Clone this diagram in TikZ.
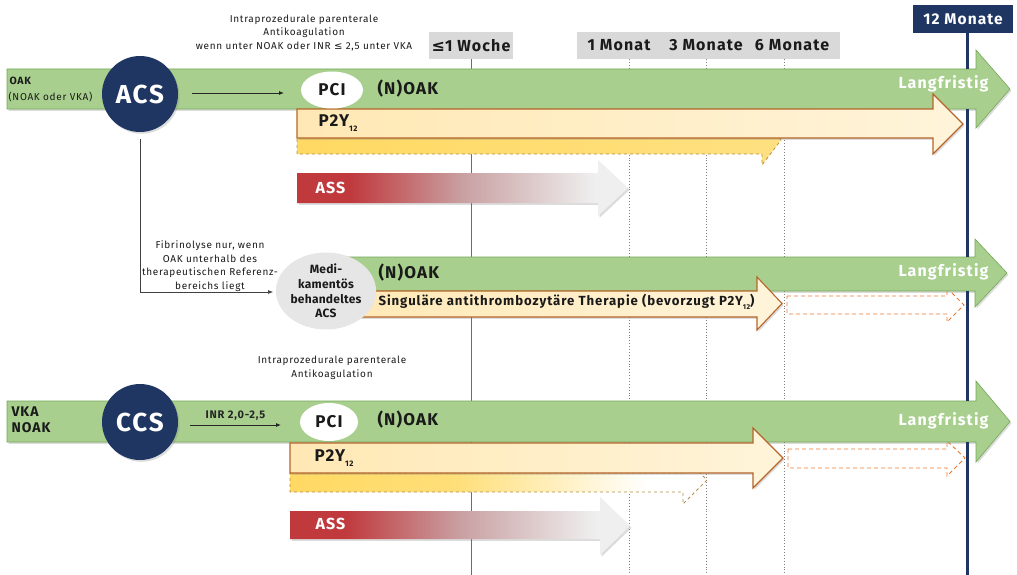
\documentclass[tikz,border=0pt]{standalone}
\usepackage{fontspec}
\setmainfont{Fira Sans}[LetterSpace=7]
\newfontfamily\symfont{DejaVu Sans}
\usetikzlibrary{shapes.geometric,shadows,arrows.meta}
\definecolor{gfill}{HTML}{A8CF8E}
\definecolor{gline}{HTML}{74A857}
\definecolor{navy}{HTML}{1F3562}
\definecolor{boxgrey}{HTML}{D9D9D9}
\definecolor{cream1}{HTML}{FFE8B4}
\definecolor{cream2}{HTML}{FFF4DA}
\definecolor{brownline}{HTML}{B5652B}
\definecolor{yel}{HTML}{FFD962}
\definecolor{yelline}{HTML}{B0904A}
\definecolor{assred}{HTML}{C0393D}
\definecolor{assmid}{HTML}{C9A0A2}
\definecolor{asslight}{HTML}{EFEFEF}
\definecolor{orangedash}{HTML}{E8792F}
\definecolor{medigrey}{HTML}{E6E6E6}
\definecolor{txt}{HTML}{1A1A1A}
\pgfdeclarehorizontalshading{assshade}{100bp}{color(0bp)=(assred); color(33bp)=(assred); color(50bp)=(assmid); color(70bp)=(asslight); color(100bp)=(asslight)}
\pgfdeclarehorizontalshading{yelfade}{100bp}{color(0bp)=(yel); color(25bp)=(yel); color(45bp)=(yel!85!white); color(68bp)=(white); color(100bp)=(white)}
\begin{document}
\begin{tikzpicture}[x=1pt,y=-1pt,
  font=\fontsize{10}{12}\selectfont, text=txt,
  shadowed/.style={drop shadow={opacity=0.28,shadow xshift=1.5pt,shadow yshift=-1.8pt}},
  greenbar/.style={fill=gfill, draw=gline, line width=0.6pt, shadowed},
  creambar/.style={left color=cream1, right color=cream2, draw=brownline, line width=1.1pt, shadowed},
  yelbar/.style={draw=yelline, dashed, line width=0.8pt},
  assbar/.style={shading=assshade, shadowed},
  outlinebar/.style={draw=orangedash, dash pattern=on 4pt off 3pt, line width=0.9pt},
  timebox/.style={fill=boxgrey, minimum height=27pt, inner sep=0pt},
  timetxt/.style={font=\fontsize{16}{18}\selectfont\bfseries},
  bigcircle/.style={circle, fill=navy, text=white, minimum size=76pt, inner sep=0pt, font=\fontsize{26}{28}\selectfont\bfseries, shadowed},
  pcinode/.style={ellipse, fill=white, inner sep=0pt, font=\fontsize{17}{20}\selectfont\bfseries},
  drug/.style={font=\fontsize{17}{20}\selectfont\bfseries, anchor=west},
  asstxt/.style={font=\fontsize{16}{18}\selectfont\bfseries, text=white, anchor=west},
  lang/.style={font=\fontsize{16}{18}\selectfont\bfseries, text=white, anchor=east},
  small/.style={font=\fontsize{10}{13.5}\selectfont, align=center},
  conn/.style={-{Latex[length=5pt,width=4pt]}, line width=0.8pt, black!85},
  dotline/.style={gray, dotted, line width=0.9pt},
  navyline/.style={navy, line width=3pt}
]
\useasboundingbox (0,0) rectangle (1017,575);

% ---- time axis ----
\node[timebox, minimum width=84pt] (wk) at (471,45.5) {};
\node[timetxt] (wktxt) at (471,45.5) {{\symfont ≤}1 Woche};
\node[timebox, minimum width=263pt] (mbox) at (708.5,45.5) {};
\node[timetxt] (m1) at (619,45.5) {1 Monat};
\node[timetxt] (m3) at (706,45.5) {3 Monate};
\node[timetxt] (m6) at (792,45.5) {6 Monate};
\node[fill=navy, text=white, minimum width=100pt, minimum height=28pt, inner sep=0pt, font=\fontsize{15.5}{18}\selectfont\bfseries] (m12) at (963,19) {12 Monate};

\coordinate (wkbot) at (471,575);
\draw[gray!85!black, line width=0.9pt] (wk.south) -- (wkbot);
\coordinate (d1t) at (629,59); \coordinate (d1b) at (629,575);
\coordinate (d3t) at (706,59); \coordinate (d3b) at (706,575);
\coordinate (d6t) at (784,59); \coordinate (d6b) at (784,575);
\draw[dotline] (d1t) -- (d1b);
\draw[dotline] (d3t) -- (d3b);
\draw[dotline] (d6t) -- (d6b);
\coordinate (n12b) at (967,575);
\draw[navyline] (m12.south -| n12b) -- (n12b);

% ---- top section (ACS) ----
\node[small] (intra1) at (304,33) {Intraprozedurale parenterale\\Antikoagulation\\wenn unter NOAK oder INR {\symfont ≤} 2,5 unter VKA};

\path[greenbar] (7,69) -- (976,69) -- (976,50) -- (1010,89) -- (976,128) -- (976,109) -- (7,109) -- cycle;
\path[yelbar, left color=yel, right color=yel!80!white] (297,137) -- (762,137) -- (762,115) -- (781,140) -- (762,165) -- (762,154) -- (297,154) -- cycle;
\path[creambar] (297,109) -- (933,109) -- (933,94) -- (963,124) -- (933,154) -- (933,138) -- (297,138) -- cycle;
\path[assbar] (297,173) -- (598,173) -- (598,160) -- (628,188) -- (598,216) -- (598,203) -- (297,203) -- cycle;

\node[anchor=west, font=\fontsize{10.5}{12}\selectfont\bfseries] (oak) at (6,81) {OAK};
\node[anchor=west, font=\fontsize{10}{12}\selectfont] (oak2) at (5,97) {(NOAK oder VKA)};
\node[bigcircle] (acs) at (140,94) {ACS};
\coordinate (ar1s) at (192,93);
\coordinate (ar1e) at (284,93);
\draw[conn] (ar1s) -- (ar1e);
\node[pcinode, minimum width=62pt, minimum height=37pt] (pci1) at (332,90) {PCI};
\node[drug] (noak1) at (374,89) {(N)OAK};
\node[drug] (p2y1) at (315,123) {P2Y\raisebox{-5pt}{\fontsize{8}{8}\selectfont 12}};
\node[asstxt] (ass1) at (312,188) {ASS};
\node[lang] (lang1) at (992,84) {Langfristig};

% ---- middle section ----
\node[small] (fib) at (210,266) {Fibrinolyse nur, wenn\\OAK unterhalb des\\therapeutischen Referenz-\\bereichs liegt};
\path[outlinebar] (787,296) -- (947,296) -- (947,288) -- (964,305) -- (947,322) -- (947,314) -- (787,314) -- cycle;
\path[greenbar] (330,257) -- (975,257) -- (975,239) -- (1007,273) -- (975,307) -- (975,291) -- (330,291) -- cycle;
\path[creambar] (330,291) -- (757,291) -- (757,277) -- (782,303.5) -- (757,330) -- (757,317) -- (330,317) -- cycle;
\node[ellipse, fill=medigrey, minimum width=92pt, minimum height=77pt, inner sep=0pt, align=center, font=\fontsize{12}{14.8}\selectfont\bfseries\addfontfeature{LetterSpace=2}] (medi) at (326,291) {Medi-\\kamentös\\behandeltes\\ACS};
\coordinate (fibend) at (273,292);
\draw[conn, line width=0.6pt, black!75] ([yshift=-7pt]acs.south) |- (fibend);
\node[drug] (noak2) at (375,273) {(N)OAK};
\node[anchor=west, font=\fontsize{13.2}{15}\selectfont\bfseries] (sat) at (375,302) {Singuläre antithrombozytäre Therapie (bevorzugt P2Y\raisebox{-4pt}{\fontsize{7}{7}\selectfont 12})};
\node[lang] (lang2) at (992,272) {Langfristig};

% ---- bottom section (CCS) ----
\node[small] (intra2) at (332,368) {Intraprozedurale parenterale\\Antikoagulation};
\path[outlinebar] (788,449) -- (947,449) -- (947,441) -- (965,458) -- (947,476) -- (947,468) -- (788,468) -- cycle;
\path[greenbar] (7,401) -- (976,401) -- (976,381) -- (1010,421.5) -- (976,462) -- (976,442) -- (7,442) -- cycle;
\path[yelbar, shading=yelfade] (290,473) -- (683,473) -- (683,456) -- (707,480) -- (683,504) -- (683,492) -- (290,492) -- cycle;
\path[creambar] (290,443) -- (753,443) -- (753,428) -- (783,458) -- (753,488) -- (753,473) -- (290,473) -- cycle;
\path[assbar] (290,511) -- (600,511) -- (600,497) -- (630,526) -- (600,555) -- (600,539) -- (290,539) -- cycle;

\node[anchor=west, align=left, font=\fontsize{14}{16}\selectfont\bfseries] (vka) at (8,420) {VKA\\NOAK};
\node[bigcircle] (ccs) at (140,422) {CCS};
\coordinate (ar2s) at (190,425);
\coordinate (ar2e) at (281,425);
\draw[conn] (ar2s) -- node[above=1pt, font=\fontsize{11}{12}\selectfont\bfseries] (inr) {INR 2,0-2,5} (ar2e);
\node[pcinode, minimum width=58pt, minimum height=38pt] (pci2) at (329,422) {PCI};
\node[drug] (noak3) at (374,420) {(N)OAK};
\node[drug] (p2y2) at (311,458) {P2Y\raisebox{-5pt}{\fontsize{8}{8}\selectfont 12}};
\node[asstxt] (ass2) at (312,524) {ASS};
\node[lang] (lang3) at (992,421) {Langfristig};

% navy line drawn over the arrow heads
\coordinate (s1) at (967,33); \coordinate (s2) at (967,69);
\coordinate (s3) at (967,109); \coordinate (s4) at (967,257);
\coordinate (s5) at (967,291); \coordinate (s6) at (967,401);
\coordinate (s7) at (967,442);
\draw[navyline] (s1) -- (s2);
\draw[navyline] (s3) -- (s4);
\draw[navyline] (s5) -- (s6);
\draw[navyline] (s7) -- (n12b);
\end{tikzpicture}
\end{document}
